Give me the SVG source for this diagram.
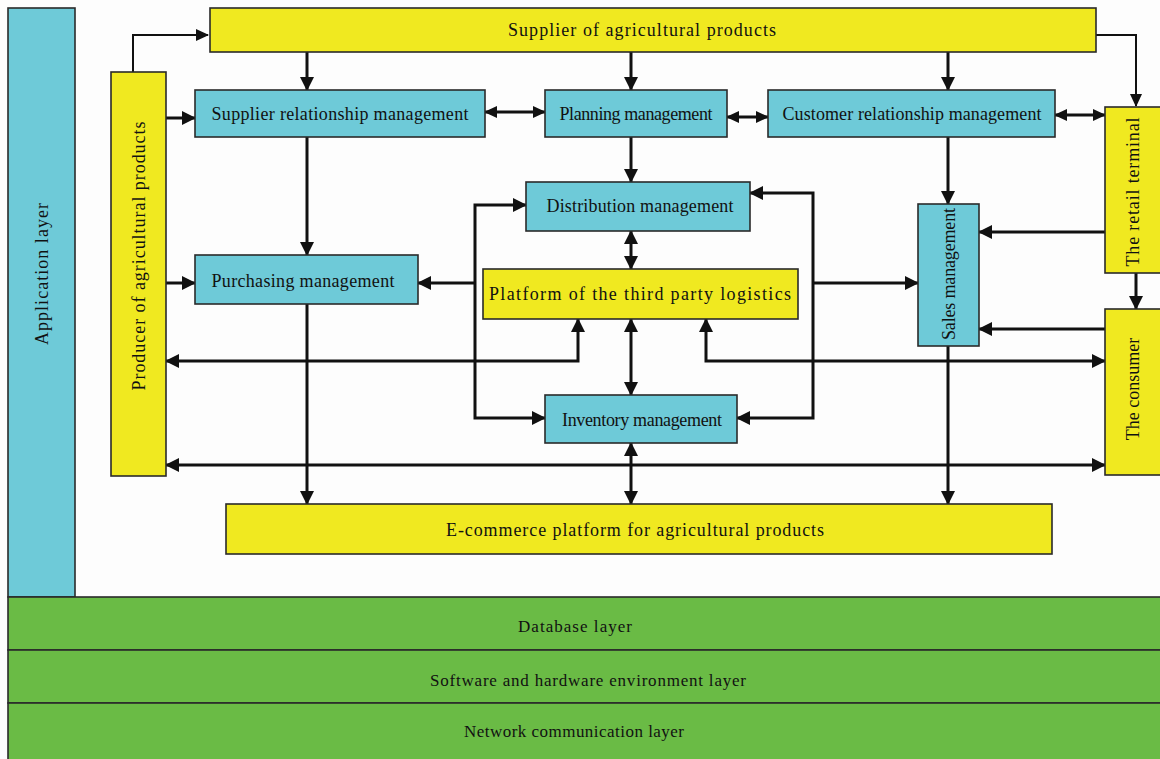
<svg xmlns="http://www.w3.org/2000/svg" width="1160" height="759" viewBox="0 0 1160 759">
<style>
.bg{fill:#fdfdfd}
.cy{fill:#6ecad8;stroke:#2a2a2a;stroke-width:1.6}
.ye{fill:#f0e920;stroke:#2a2a2a;stroke-width:1.6}
.gr{fill:#6abb45;stroke:#2a2a2a;stroke-width:1.6}
.t{font-family:"Liberation Serif","Times New Roman",serif;font-size:18px;fill:#111;text-anchor:middle;dominant-baseline:central}
.ts{font-size:17px}
.c{fill:none;stroke:#111;stroke-width:3;stroke-linejoin:miter}
.thin{stroke-width:2}
</style>
<defs>
<marker id="ah" markerUnits="userSpaceOnUse" markerWidth="14" markerHeight="14" viewBox="0 0 14 14" refX="13" refY="7" orient="auto-start-reverse">
<path d="M0,0 L14,7 L0,14 z" fill="#111"/>
</marker>
<marker id="ahs" markerUnits="userSpaceOnUse" markerWidth="13" markerHeight="12" viewBox="0 0 13 12" refX="12" refY="6" orient="auto-start-reverse">
<path d="M0,0 L13,6 L0,12 z" fill="#111"/>
</marker>
</defs>
<rect class="bg" x="0" y="0" width="1160" height="759"/>

<g id="application-layer">
<rect class="cy" x="8" y="8" width="67" height="589"/>
<text class="t" transform="translate(42,274) rotate(-90)" textLength="142">Application layer</text>
</g>
<g id="database-layer">
<rect class="gr" x="8" y="597" width="1160" height="53"/>
<text class="t ts" x="575" y="626" textLength="114">Database layer</text>
</g>
<g id="software-layer">
<rect class="gr" x="8" y="650" width="1160" height="53"/>
<text class="t ts" x="588" y="680" textLength="316">Software and hardware environment layer</text>
</g>
<g id="network-layer">
<rect class="gr" x="8" y="703" width="1160" height="60"/>
<text class="t ts" x="574" y="731" textLength="220">Network communication layer</text>
</g>

<g id="connectors">
<path class="c thin" d="M133,72 V35 H208" marker-end="url(#ahs)"/>
<path class="c thin" d="M1096,35 H1136 V106" marker-end="url(#ahs)"/>
<path class="c" d="M307,52 V90" marker-end="url(#ah)"/>
<path class="c" d="M631,52 V90" marker-end="url(#ah)"/>
<path class="c" d="M948,52 V90" marker-end="url(#ah)"/>
<path class="c" d="M166,118 H195" marker-end="url(#ah)"/>
<path class="c" d="M485,112 H545" marker-start="url(#ahs)" marker-end="url(#ahs)"/>
<path class="c" d="M727,117 H768" marker-start="url(#ahs)" marker-end="url(#ahs)"/>
<path class="c" d="M1055,115 H1105" marker-start="url(#ahs)" marker-end="url(#ahs)"/>
<path class="c" d="M307,137 V255" marker-end="url(#ah)"/>
<path class="c" d="M631,137 V182" marker-end="url(#ah)"/>
<path class="c" d="M948,137 V204" marker-end="url(#ah)"/>
<path class="c" d="M166,283 H195" marker-end="url(#ah)"/>
<path class="c" d="M526,205 H475 V418 H545" marker-start="url(#ah)" marker-end="url(#ah)"/>
<path class="c" d="M475,283 H418" marker-end="url(#ah)"/>
<path class="c" d="M750,193 H813 V418 H737" marker-start="url(#ah)" marker-end="url(#ah)"/>
<path class="c" d="M813,283 H918" marker-end="url(#ah)"/>
<path class="c" d="M631,231 V269" marker-start="url(#ah)" marker-end="url(#ah)"/>
<path class="c" d="M631,319 V395" marker-start="url(#ah)" marker-end="url(#ah)"/>
<path class="c" d="M166,361 H578 V319" marker-start="url(#ah)" marker-end="url(#ah)"/>
<path class="c" d="M706,319 V361 H1105" marker-start="url(#ah)" marker-end="url(#ah)"/>
<path class="c" d="M1105,232 H979" marker-end="url(#ah)"/>
<path class="c" d="M1105,329 H979" marker-end="url(#ah)"/>
<path class="c" d="M1136,273 V309" marker-end="url(#ah)"/>
<path class="c" d="M166,465 H1105" marker-start="url(#ah)" marker-end="url(#ah)"/>
<path class="c" d="M631,443 V504" marker-start="url(#ah)" marker-end="url(#ah)"/>
<path class="c" d="M307,304 V504" marker-end="url(#ah)"/>
<path class="c" d="M948,346 V504" marker-end="url(#ah)"/>
</g>

<g id="supplier">
<rect class="ye" x="210" y="8" width="886" height="44"/>
<text class="t" x="642" y="30" textLength="268">Supplier of agricultural products</text>
</g>
<g id="producer">
<rect class="ye" x="111" y="72" width="55" height="404"/>
<text class="t" transform="translate(139,256) rotate(-90)" textLength="269">Producer of agricultural products</text>
</g>
<g id="srm">
<rect class="cy" x="195" y="90" width="290" height="47"/>
<text class="t" x="340" y="114" textLength="257">Supplier relationship management</text>
</g>
<g id="planning">
<rect class="cy" x="545" y="90" width="182" height="47"/>
<text class="t" x="636" y="114" textLength="153">Planning management</text>
</g>
<g id="crm">
<rect class="cy" x="768" y="90" width="287" height="47"/>
<text class="t" x="912" y="114" textLength="259">Customer relationship management</text>
</g>
<g id="retail">
<rect class="ye" x="1105" y="107" width="57" height="166"/>
<text class="t" transform="translate(1133,192) rotate(-90)" textLength="149">The retail terminal</text>
</g>
<g id="distribution">
<rect class="cy" x="526" y="182" width="224" height="49"/>
<text class="t" x="640" y="206" textLength="187">Distribution management</text>
</g>
<g id="purchasing">
<rect class="cy" x="195" y="255" width="223" height="49"/>
<text class="t" x="303" y="281" textLength="183">Purchasing management</text>
</g>
<g id="platform">
<rect class="ye" x="483" y="269" width="315" height="50"/>
<text class="t" x="640" y="294" textLength="302">Platform of the third party logistics</text>
</g>
<g id="sales">
<rect class="cy" x="918" y="204" width="61" height="142"/>
<text class="t" transform="translate(949,274) rotate(-90)" textLength="132">Sales management</text>
</g>
<g id="consumer">
<rect class="ye" x="1105" y="309" width="57" height="166"/>
<text class="t" transform="translate(1133,389) rotate(-90)">The consumer</text>
</g>
<g id="inventory">
<rect class="cy" x="545" y="395" width="192" height="48"/>
<text class="t" x="642" y="420" textLength="160">Inventory management</text>
</g>
<g id="ecommerce">
<rect class="ye" x="226" y="504" width="826" height="50"/>
<text class="t" x="635" y="530" textLength="378">E-commerce platform for agricultural products</text>
</g>
</svg>
